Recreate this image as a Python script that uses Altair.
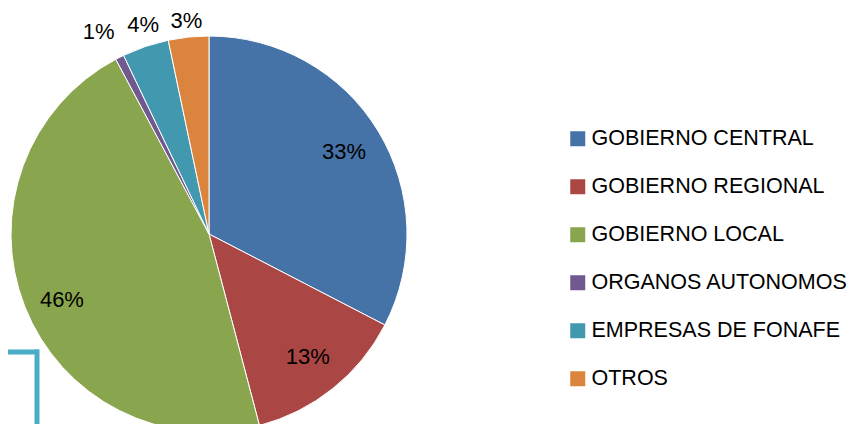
import altair as alt
import pandas as pd

categories = ["GOBIERNO CENTRAL", "GOBIERNO REGIONAL", "GOBIERNO LOCAL",
              "ORGANOS AUTONOMOS", "EMPRESAS DE FONAFE", "OTROS"]
values = [32.6, 13.3, 46.3, 0.7, 3.8, 3.3]
labels = ["33%", "13%", "46%", "1%", "4%", "3%"]
colors = ["#4572A7", "#AA4643", "#89A54E", "#71588F", "#4198AF", "#DB843D"]

df = pd.DataFrame({"cat": categories, "value": values, "label": labels,
                   "idx": list(range(len(categories)))})
total = sum(values)

CX, CY, R = 201, 226, 198
FONT = "Liberation Sans"

theta_scale = alt.Scale(domain=[0, total], nice=False, zero=True)

base = alt.Chart(df).transform_window(
    v1="sum(value)", sort=[alt.SortField("idx")], frame=[None, 0]
).transform_calculate(
    v0="datum.v1 - datum.value",
    mid="datum.v1 - datum.value / 2",
)

pie = base.mark_arc(outerRadius=R, x=CX, y=CY, stroke="white", strokeWidth=1).encode(
    theta=alt.Theta("v0:Q", scale=theta_scale),
    theta2="v1:Q",
    color=alt.Color(
        "cat:N",
        scale=alt.Scale(domain=categories, range=colors),
        legend=alt.Legend(
            title=None, orient="none", legendX=559, legendY=120,
            symbolType="square", symbolSize=225, symbolStrokeWidth=0,
            labelFontSize=21.5, labelFont=FONT, labelColor="#000000",
            labelOffset=3, rowPadding=25, labelLimit=400, padding=0, offset=0,
        ),
    ),
)

# label placement: (radius, dx, dy) per label, inside labels near 0.8R, outside beyond the rim
placement = {
    "33%": (158, 0, 0),
    "13%": (158, 0, 0),
    "46%": (158, 0, 8),
    "1%": (218, -12, -7),
    "4%": (218, 4, -3),
    "3%": (218, 0, 4),
}

text_layers = []
for lab in labels:
    r, ddx, ddy = placement[lab]
    text_layers.append(
        base.transform_filter(alt.datum.label == lab).mark_text(
            radius=r, x=CX, y=CY, dx=ddx, dy=ddy, fontSize=22, font=FONT,
            color="#000000", align="center", baseline="middle",
        ).encode(theta=alt.Theta("mid:Q", scale=theta_scale), text="label:N")
    )

one = alt.Data(values=[{"a": 1}])
hline = alt.Chart(one).mark_rule(color="#4BACC6", strokeWidth=5).encode(
    x=alt.value(-8), x2=alt.value(31), y=alt.value(344))
vline = alt.Chart(one).mark_rule(color="#4BACC6", strokeWidth=5).encode(
    x=alt.value(29), y=alt.value(341.5), y2=alt.value(430))

chart = alt.layer(pie, *text_layers, hline, vline).properties(
    width=845, height=416,
    autosize=alt.AutoSizeParams(type="none"),
    padding=0, background="white",
).configure_view(stroke=None)

chart.save("out.html", embed_options={"renderer": "svg", "actions": False})
